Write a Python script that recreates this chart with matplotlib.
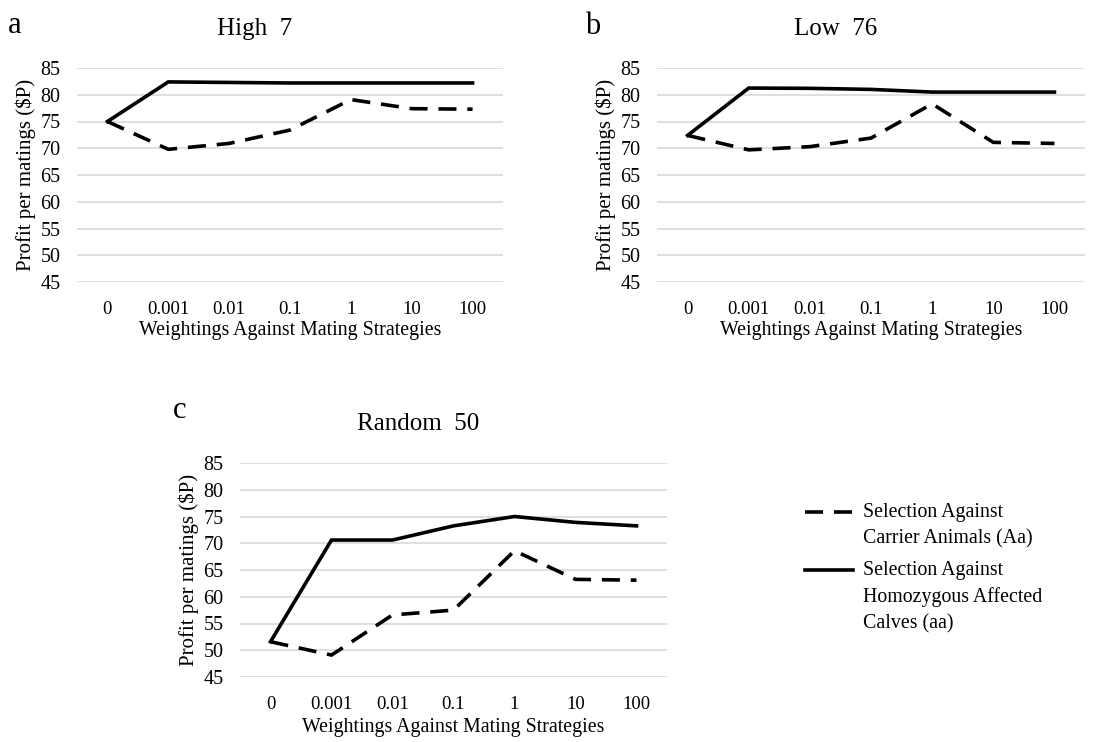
import matplotlib.pyplot as plt
from matplotlib.lines import Line2D

plt.rcParams['font.family'] = ['Liberation Serif', 'DejaVu Serif']

weightings = ['0', '0.001', '0.01', '0.1', '1', '10', '100']

# Profit per mating ($P) for each population scenario
high7_carrier = [75.0, 69.8, 70.9, 73.4, 79.1, 77.4, 77.3]
high7_affected = [75.0, 82.4, 82.3, 82.2, 82.2, 82.2, 82.2]

low76_carrier = [72.4, 69.7, 70.3, 71.9, 78.3, 71.1, 70.9]
low76_affected = [72.4, 81.25, 81.2, 81.0, 80.5, 80.5, 80.5]

random50_carrier = [51.6, 49.1, 56.6, 57.5, 68.6, 63.25, 63.1]
random50_affected = [51.6, 70.6, 70.6, 73.25, 75.0, 73.9, 73.25]

yticks = [45, 50, 55, 60, 65, 70, 75, 80, 85]

legend_labels = [
    ['Selection Against', 'Carrier Animals (Aa)'],
    ['Selection Against', 'Homozygous Affected', 'Calves (aa)'],
]

LW = 2.6
DASHES = (5, 3)

W, H = 1108, 742
fig = plt.figure(figsize=(W / 100, H / 100), dpi=100)


def fx(px):
    return px / W


def fy(py):
    return 1 - py / H


def px_axes(x0, x1, ytop, ybot):
    return fig.add_axes([fx(x0), fy(ybot), (x1 - x0) / W, (ybot - ytop) / H])


def draw_panel(ax, letter, letter_xy, title, carrier, affected, xlabelpad):
    x = range(len(weightings))
    ax.plot(x, carrier, color='black', lw=LW, dashes=DASHES, solid_joinstyle='miter')
    ax.plot(x, affected, color='black', lw=LW, solid_joinstyle='miter')
    ax.set_xlim(-0.5, len(weightings) - 0.5)
    ax.set_ylim(45, 85)
    ax.set_yticks(yticks)
    ax.set_xticks(list(x))
    ax.set_xticklabels(weightings)
    ax.tick_params(axis='both', length=0, labelsize=13.5)
    ax.tick_params(axis='y', labelsize=14.5, pad=12)
    ax.tick_params(axis='x', pad=14)
    ax.grid(axis='y', color='#d9d9d9', lw=1.2)
    ax.set_axisbelow(True)
    for s in ax.spines.values():
        s.set_visible(False)
    ax.set_ylabel('Profit per matings ($P)', fontsize=15, labelpad=3)
    ax.set_xlabel('Weightings Against Mating Strategies', fontsize=14.3,
                  labelpad=xlabelpad)
    ax.set_title(title, fontsize=18, pad=24, x=0.417)
    fig.text(fx(letter_xy[0]), fy(letter_xy[1]), letter, fontsize=22,
             ha='left', va='baseline')


ax_a = px_axes(77, 503, 68, 282)
ax_b = px_axes(657, 1085, 68, 282)
ax_c = px_axes(240, 667, 463, 677)

draw_panel(ax_a, 'a', (8, 33), 'High  7', high7_carrier, high7_affected, 2)
draw_panel(ax_b, 'b', (585, 34), 'Low  76', low76_carrier, low76_affected, 2)
draw_panel(ax_c, 'c', (173, 418), 'Random  50', random50_carrier,
           random50_affected, 3)

# legend drawn by hand so each key sits on the first line of its entry
key_styles = [dict(dashes=DASHES), dict()]
entry_tops = [512, 570]
line_step = 27
for style, top, lines in zip(key_styles, entry_tops, legend_labels):
    fig.add_artist(Line2D([fx(805), fx(853)], [fy(top), fy(top)],
                          color='black', lw=LW, **style))
    for i, txt in enumerate(lines):
        fig.text(fx(863), fy(top + i * line_step), txt, fontsize=14.3,
                 ha='left', va='center')

fig.savefig('out.png', dpi=100)
